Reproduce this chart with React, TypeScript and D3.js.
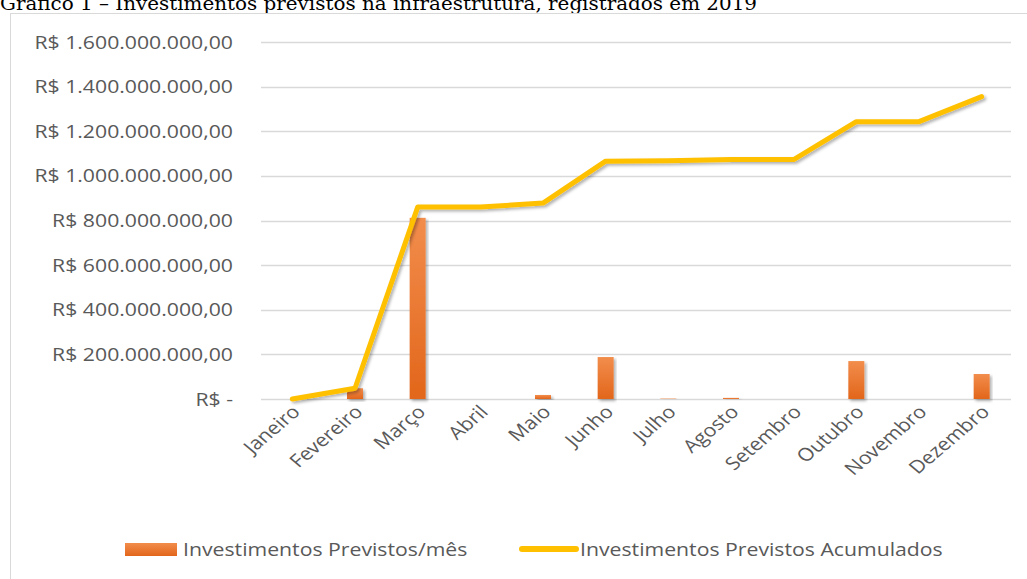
import React, { useEffect, useRef } from "react";
import * as d3 from "d3";

const months = [
  "Janeiro", "Fevereiro", "Março", "Abril", "Maio", "Junho",
  "Julho", "Agosto", "Setembro", "Outubro", "Novembro", "Dezembro",
];
// valores em milhões de reais
const monthly = [0, 48, 812, 0, 18, 188, 2, 5, 0, 170, 0, 112];
const accumulated = [0, 48, 860, 860, 878, 1066, 1068, 1073, 1073, 1243, 1243, 1355];
const yTicks = [0, 200, 400, 600, 800, 1000, 1200, 1400, 1600];
const seriesNames = ["Investimentos Previstos/mês", "Investimentos Previstos Acumulados"];
const title = "Gráfico 1 – Investimentos previstos na infraestrutura, registrados em 2019";

const fmt = (v: number) => {
  if (v === 0) return "R$ -";
  const s = String(v * 1000000).replace(/\B(?=(\d{3})+(?!\d))/g, ".");
  return "R$ " + s + ",00";
};

const App = () => {
  const ref = useRef<SVGSVGElement>(null);

  useEffect(() => {
    const width = 1027, height = 579;
    const svg = d3.select(ref.current);
    svg.selectAll("*").remove();
    svg.attr("width", width).attr("height", height);

    const font = "'Open Sans', Lato, sans-serif";
    const fs = 18;
    const sx = 1.18; // the picture is a bit stretched sideways
    const gray = "#595959";

    // title
    svg.append("text")
      .attr("x", 0).attr("y", 10)
      .attr("font-family", "'DejaVu Serif', serif")
      .attr("font-size", 19)
      .attr("textLength", 757)
      .attr("lengthAdjust", "spacingAndGlyphs")
      .attr("fill", "#000")
      .text(title);

    // frame
    svg.append("rect")
      .attr("x", 10.5).attr("y", 13.5)
      .attr("width", 1030).attr("height", 580)
      .attr("fill", "#fff")
      .attr("stroke", "#d9d9d9");

    const defs = svg.append("defs");
    const grad = defs.append("linearGradient")
      .attr("id", "barGrad").attr("x1", 0).attr("y1", 0).attr("x2", 0).attr("y2", 1);
    grad.append("stop").attr("offset", "0%").attr("stop-color", "#F28D4C");
    grad.append("stop").attr("offset", "100%").attr("stop-color", "#E2661B");
    const sh = defs.append("filter").attr("id", "shadow")
      .attr("x", "-20%").attr("y", "-20%").attr("width", "140%").attr("height", "140%");
    sh.append("feDropShadow")
      .attr("dx", 2).attr("dy", 2).attr("stdDeviation", 1.5)
      .attr("flood-color", "#000").attr("flood-opacity", 0.3);

    const x = d3.scaleBand().domain(months).range([261, 1013]);
    const y = d3.scaleLinear().domain([0, 1600]).range([399, 42]);

    // grid
    svg.append("g")
      .selectAll("line")
      .data(yTicks)
      .join("line")
      .attr("x1", 261).attr("x2", 1011)
      .attr("y1", (d) => Math.round(y(d)) + 0.5)
      .attr("y2", (d) => Math.round(y(d)) + 0.5)
      .attr("stroke", "#d9d9d9")
      .attr("stroke-width", 1.5);

    // y labels
    svg.append("g")
      .selectAll("text")
      .data(yTicks)
      .join("text")
      .attr("transform", (d) => `translate(233,${y(d) + 6.5}) scale(${sx},1)`)
      .attr("text-anchor", "end")
      .attr("font-family", font)
      .attr("font-size", fs)
      .attr("fill", gray)
      .text((d) => fmt(d));

    // bars
    const bw = 16;
    svg.append("g")
      .selectAll("rect")
      .data(monthly)
      .join("rect")
      .attr("x", (d, i) => x(months[i])! + x.bandwidth() / 2 - bw / 2)
      .attr("y", (d) => y(d))
      .attr("width", bw)
      .attr("height", (d) => y(0) - y(d))
      .attr("fill", "url(#barGrad)")
      .attr("filter", "url(#shadow)");

    // line
    const line = d3.line<number>()
      .x((d, i) => x(months[i])! + x.bandwidth() / 2)
      .y((d) => y(d));
    svg.append("path")
      .datum(accumulated)
      .attr("d", line)
      .attr("fill", "none")
      .attr("stroke", "#FFC000")
      .attr("stroke-width", 5)
      .attr("stroke-linejoin", "round")
      .attr("stroke-linecap", "round")
      .attr("filter", "url(#shadow)");

    // x labels
    svg.append("g")
      .selectAll("text")
      .data(months)
      .join("text")
      .attr("transform", (d) => `translate(${x(d)! + x.bandwidth() / 2 + 9},${413}) scale(${sx},1) rotate(-45)`)
      .attr("text-anchor", "end")
      .attr("font-family", font)
      .attr("font-size", fs)
      .attr("fill", gray)
      .text((d) => d);

    // legend
    const lg = svg.append("g");
    lg.append("rect")
      .attr("x", 125).attr("y", 543).attr("width", 52).attr("height", 13)
      .attr("fill", "url(#barGrad)");
    lg.append("text")
      .attr("transform", `translate(183,556) scale(${sx},1)`)
      .attr("font-family", font).attr("font-size", fs).attr("fill", gray)
      .text(seriesNames[0]);
    lg.append("line")
      .attr("x1", 522).attr("x2", 576).attr("y1", 549).attr("y2", 549)
      .attr("stroke", "#FFC000").attr("stroke-width", 6).attr("stroke-linecap", "round");
    lg.append("text")
      .attr("transform", `translate(580,556) scale(${sx},1)`)
      .attr("font-family", font).attr("font-size", fs).attr("fill", gray)
      .text(seriesNames[1]);
  }, []);

  return <svg ref={ref} style={{ position: "absolute", left: 0, top: 0 }}></svg>;
};

export default App;
